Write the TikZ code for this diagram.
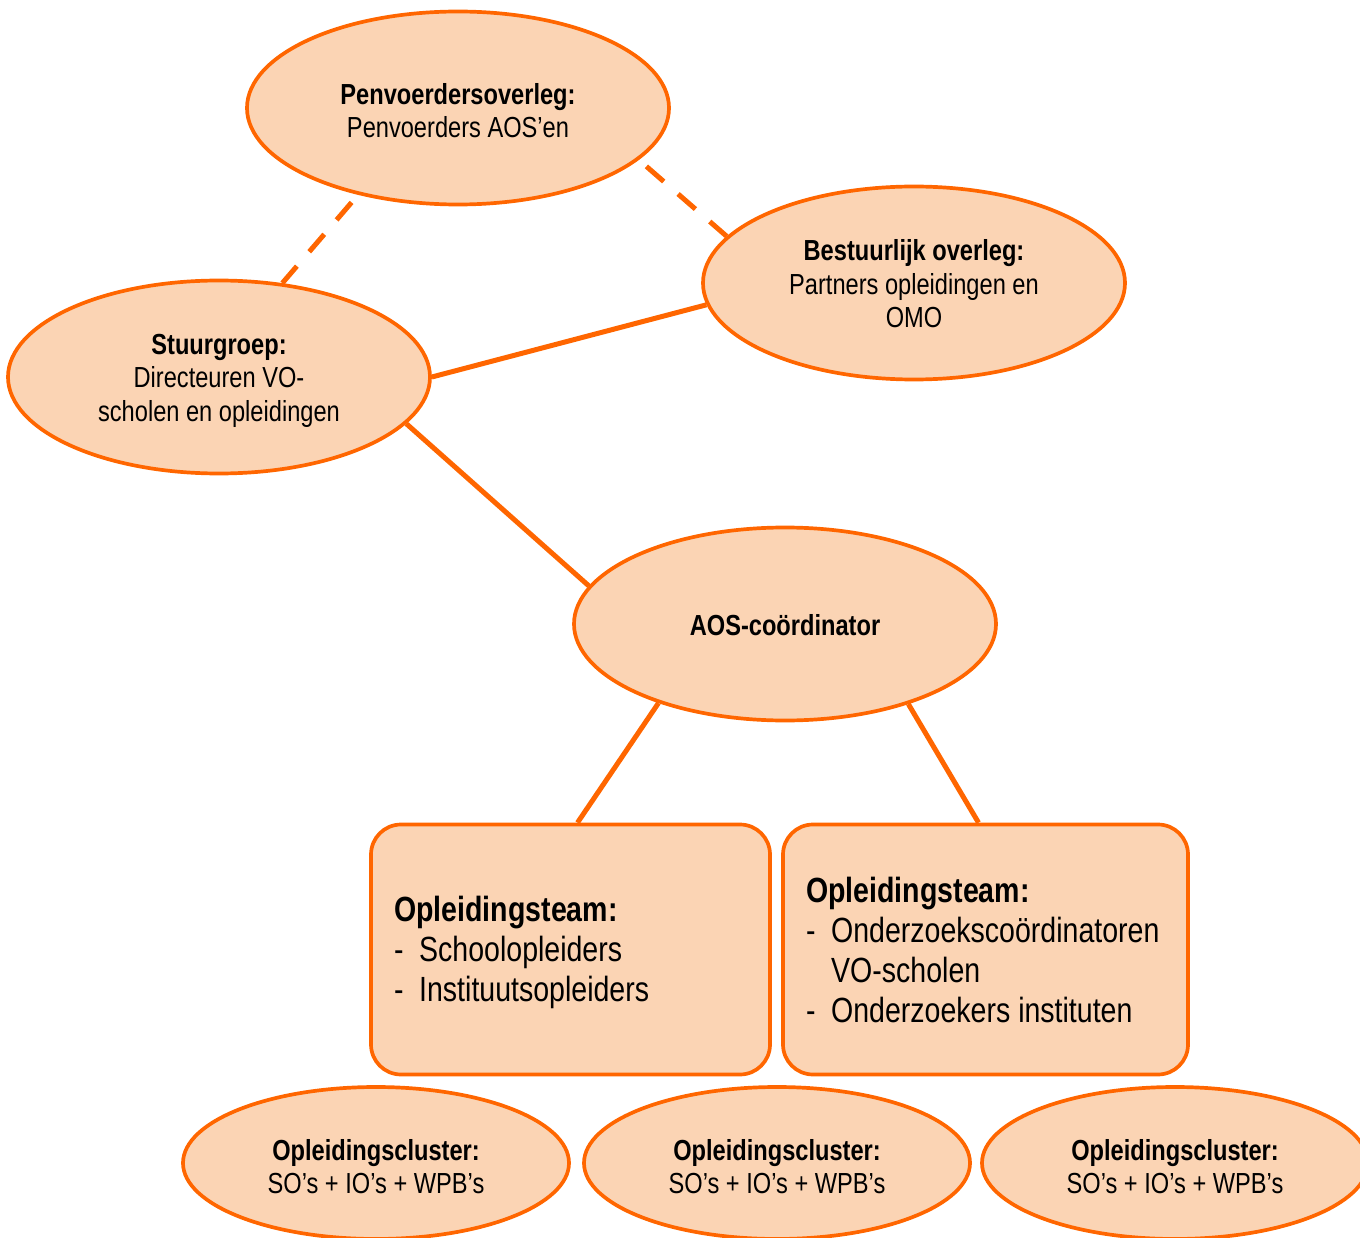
\documentclass[tikz,border=0pt]{standalone}
\usepackage{fontspec}
\setmainfont[FakeStretch=0.815]{Liberation Sans}
\usetikzlibrary{shapes.geometric}
\definecolor{peach}{HTML}{FBD4B4}
\definecolor{orng}{HTML}{FF6600}
\tikzset{
  oval/.style={ellipse, draw=orng, fill=peach, line width=3.7pt,
    minimum width=422pt, minimum height=193pt, inner sep=0pt},
  lowoval/.style={oval, minimum width=386pt, minimum height=152pt},
  ovaltext/.style={align=center, inner sep=0pt,
    font=\fontsize{29}{33.5}\selectfont},
  teambox/.style={draw=orng, fill=peach, line width=3.7pt, rounded corners=30pt,
    minimum height=250pt, inner sep=0pt},
  teamtext/.style={anchor=west, align=left, inner sep=0pt,
    font=\fontsize{35}{40}\selectfont},
  link/.style={draw=orng, line width=5pt},
  dlink/.style={link, dash pattern=on 23pt off 19pt, shorten <=10pt}
}
\newcommand{\itm}{\makebox[25pt][l]{-}}
\begin{document}
\begin{tikzpicture}[x=1pt,y=-1pt]
\useasboundingbox (0,0) rectangle (1360,1238);
\clip (0,0) rectangle (1360,1238);
% shapes
\node[oval] (pen) at (458,108) {};
\node[oval] (bes) at (914,283) {};
\node[oval] (stu) at (219,377) {};
\node[oval] (aos) at (785,624) {};
\node[teambox, minimum width=399pt] (box1) at (570.5,949.5) {};
\node[teambox, minimum width=405pt] (box2) at (985.5,949.5) {};
\node[lowoval] (c1) at (376,1163) {};
\node[lowoval] (c2) at (777,1163) {};
\node[lowoval] (c3) at (1175,1163) {};
% texts
\node[ovaltext, yshift=-2.5pt] (pent) at (pen.center) {\textbf{Penvoerdersoverleg:}\\Penvoerders AOS’en};
\node[ovaltext, yshift=-1pt] (best) at (bes.center) {\textbf{Bestuurlijk overleg:}\\Partners opleidingen en\\OMO};
\node[ovaltext, yshift=-3.5pt] (stut) at (stu.center) {\textbf{Stuurgroep:}\\Directeuren VO-\\scholen en opleidingen};
\node[ovaltext, yshift=-1pt] (aost) at (aos.center) {\textbf{AOS-coördinator}};
\node[teamtext] (t1) at (394,952) {\textbf{Opleidingsteam:}\\\itm Schoolopleiders\\\itm Instituutsopleiders};
\node[teamtext] (t2) at (806,950) {\textbf{Opleidingsteam:}\\\itm Onderzoekscoördinatoren\\\hspace*{25pt}VO-scholen\\\itm Onderzoekers instituten};
\node[ovaltext, yshift=-3.5pt] (c1t) at (c1.center) {\textbf{Opleidingscluster:}\\SO’s + IO’s + WPB’s};
\node[ovaltext, yshift=-3.5pt] (c2t) at (c2.center) {\textbf{Opleidingscluster:}\\SO’s + IO’s + WPB’s};
\node[ovaltext, yshift=-3.5pt] (c3t) at (c3.center) {\textbf{Opleidingscluster:}\\SO’s + IO’s + WPB’s};
% connectors
\draw[dlink] (pen.221) -- (stu.56);
\draw[dlink] (pen.344) -- (bes.166);
\draw[link] (stu.east) -- (bes.186);
\draw[link] (stu.346) -- (aos.169);
\draw[link] (aos.212) -- ([xshift=7pt]box1.north);
\draw[link] (aos.327) -- ([xshift=-7pt]box2.north);
\end{tikzpicture}
\end{document}
